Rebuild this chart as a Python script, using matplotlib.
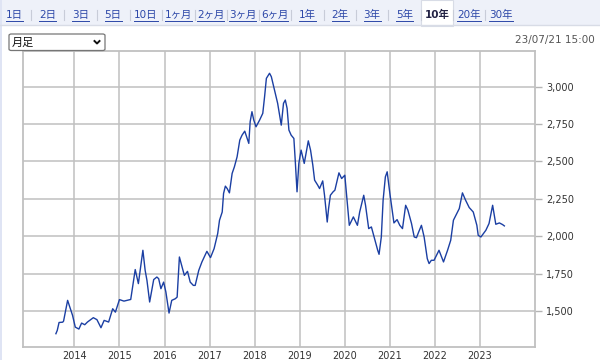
import matplotlib
matplotlib.use("Agg")
import matplotlib.pyplot as plt
from matplotlib.lines import Line2D
from matplotlib.patches import Rectangle, FancyBboxPatch
import numpy as np

plt.rcParams['font.family'] = ['DejaVu Sans', 'Noto Sans CJK JP']

# monthly close (decimal year, price)
years = [2013.59, 2013.62, 2013.66, 2013.74, 2013.76, 2013.85, 2013.90, 2013.96,
         2014.02, 2014.10, 2014.16, 2014.23, 2014.29, 2014.42, 2014.50, 2014.59,
         2014.66, 2014.76, 2014.85, 2014.91, 2015.00, 2015.10, 2015.25, 2015.35,
         2015.42, 2015.52, 2015.57, 2015.61, 2015.67, 2015.76, 2015.83, 2015.87,
         2015.92, 2015.98, 2016.03, 2016.10, 2016.16, 2016.24, 2016.28, 2016.33,
         2016.39, 2016.44, 2016.51, 2016.57, 2016.64, 2016.68, 2016.76, 2016.83,
         2016.94, 2017.02, 2017.10, 2017.18, 2017.22, 2017.28, 2017.31, 2017.35,
         2017.39, 2017.44, 2017.50, 2017.55, 2017.61, 2017.67, 2017.72, 2017.78,
         2017.81, 2017.87, 2017.90, 2017.94, 2017.98, 2018.03, 2018.11, 2018.18,
         2018.22, 2018.26, 2018.33, 2018.37, 2018.44, 2018.51, 2018.59, 2018.64,
         2018.68, 2018.72, 2018.76, 2018.81, 2018.87, 2018.90, 2018.94, 2018.98,
         2019.03, 2019.10, 2019.19, 2019.24, 2019.29, 2019.33, 2019.40, 2019.44,
         2019.51, 2019.55, 2019.61, 2019.64, 2019.68, 2019.74, 2019.78, 2019.87,
         2019.93, 2020.00, 2020.07, 2020.10, 2020.19, 2020.28, 2020.33, 2020.42,
         2020.46, 2020.53, 2020.59, 2020.64, 2020.73, 2020.76, 2020.81, 2020.85,
         2020.90, 2020.94, 2021.00, 2021.09, 2021.16, 2021.22, 2021.28, 2021.35,
         2021.40, 2021.48, 2021.54, 2021.59, 2021.64, 2021.70, 2021.76, 2021.83,
         2021.87, 2021.92, 2021.98, 2022.09, 2022.19, 2022.28, 2022.35, 2022.41,
         2022.54, 2022.61, 2022.68, 2022.76, 2022.85, 2022.93, 2022.96, 2023.02,
         2023.13, 2023.20, 2023.28, 2023.35, 2023.43, 2023.50, 2023.54]
prices = [1348, 1370, 1423, 1425, 1432, 1571, 1526, 1470,
          1392, 1379, 1419, 1408, 1426, 1455, 1442, 1388,
          1437, 1426, 1515, 1492, 1576, 1566, 1577, 1777,
          1683, 1906, 1772, 1705, 1560, 1710, 1727, 1716,
          1649, 1693, 1627, 1486, 1571, 1582, 1593, 1861,
          1794, 1738, 1765, 1693, 1671, 1671, 1772, 1828,
          1899, 1857, 1917, 2018, 2107, 2162, 2286, 2335,
          2319, 2290, 2420, 2464, 2531, 2643, 2676, 2703,
          2676, 2621, 2766, 2833, 2777, 2732, 2777, 2822,
          2933, 3056, 3090, 3067, 2978, 2889, 2743, 2889,
          2911, 2855, 2710, 2676, 2654, 2509, 2297, 2487,
          2576, 2487, 2638, 2576, 2476, 2375, 2341, 2319,
          2370, 2274, 2095, 2185, 2274, 2297, 2308, 2424,
          2386, 2408, 2174, 2073, 2129, 2073, 2162, 2274,
          2207, 2051, 2062, 2006, 1906, 1879, 1995, 2241,
          2397, 2431, 2286, 2089, 2111, 2073, 2051, 2207,
          2174, 2085, 1995, 1990, 2029, 2073, 1995, 1850,
          1817, 1839, 1839, 1906, 1828, 1906, 1973, 2107,
          2185, 2290, 2241, 2192, 2162, 2073, 2006, 1995,
          2040, 2085, 2207, 2080, 2089, 2078, 2069]

year_ticks = [2014, 2015, 2016, 2017, 2018, 2019, 2020, 2021, 2022, 2023]
price_ticks = [1500, 1750, 2000, 2250, 2500, 2750, 3000]
tabs = ['1日', '2日', '3日', '5日', '10日', '1ヶ月', '2ヶ月', '3ヶ月', '6ヶ月',
        '1年', '2年', '3年', '5年', '10年', '20年', '30年']
selected_tab = '10年'
timestamp = '23/07/21 15:00'
period_label = '月足'

W, H = 600, 360
fig = plt.figure(figsize=(6, 3.6), dpi=100)
fig.patch.set_facecolor('white')

def fx(px):
    return px / W

def fy(py):
    return 1 - py / H

# tab bar
fig.add_artist(Rectangle((0, fy(25)), 1, 25 / H, transform=fig.transFigure,
                         facecolor='#eef1f9', edgecolor='none', zorder=0))
fig.add_artist(Line2D([0, 1], [fy(25), fy(25)], transform=fig.transFigure,
                      color='#d8dce6', lw=1))
fig.add_artist(Rectangle((0, 0), fx(2), 1, transform=fig.transFigure,
                         facecolor='#dfe4f4', edgecolor='none', zorder=0))

tab_x = [14, 47.5, 80.5, 113, 146, 178.5, 210.5, 242.5, 274.5,
         307.5, 340, 372, 404.5, 437, 469, 501]
renderer = fig.canvas.get_renderer()
for i, (lab, x) in enumerate(zip(tabs, tab_x)):
    if lab == selected_tab:
        fig.add_artist(Rectangle((fx(421), fy(26)), fx(32), 26 / H,
                                 transform=fig.transFigure, facecolor='white',
                                 edgecolor='#d8dce6', lw=0.8, zorder=1))
        fig.text(fx(x), fy(15), lab, ha='center', va='center', fontsize=7.5,
                 fontweight='bold', color='#222244', zorder=2)
    else:
        t = fig.text(fx(x), fy(15), lab, ha='center', va='center', fontsize=7.5,
                     color='#2c47a8', zorder=2)
        bb = t.get_window_extent(renderer)
        fig.add_artist(Line2D([bb.x0 / W, bb.x1 / W], [fy(20.5), fy(20.5)],
                              transform=fig.transFigure, color='#2c47a8', lw=0.7))
    if i < len(tabs) - 1:
        sep = (x + tab_x[i + 1]) / 2
        fig.add_artist(Line2D([fx(sep), fx(sep)], [fy(10), fy(20)],
                              transform=fig.transFigure, color='#c8ccd8', lw=0.8))

# dropdown
fig.add_artist(FancyBboxPatch((fx(9), fy(50.5)), fx(96), 16.5 / H,
                              boxstyle='round,pad=0,rounding_size=0.004',
                              transform=fig.transFigure, facecolor='white',
                              edgecolor='#767676', lw=0.9))
fig.text(fx(12), fy(42.5), period_label, ha='left', va='center', fontsize=8, color='#111111')
fig.add_artist(Line2D([fx(94.5), fx(97), fx(99.5)], [fy(41), fy(43.5), fy(41)],
                      transform=fig.transFigure, color='#111111', lw=1.4))

fig.text(fx(595), fy(40), timestamp, ha='right', va='center', fontsize=7.5, color='#555555')

# chart
ax = fig.add_axes([fx(23), fy(347), fx(535 - 23), (347 - 51) / H])
ax.plot(years, prices, color='#1b3fa3', lw=1.0)
ax.set_xlim(2012.86, 2024.22)
ax.set_ylim(1259, 3239)
ax.set_xticks(year_ticks)
ax.set_xticklabels([str(y) for y in year_ticks])
ax.set_yticks(price_ticks)
ax.set_yticklabels([f'{p:,}' for p in price_ticks])
ax.yaxis.tick_right()
ax.tick_params(axis='y', length=5, width=1, color='#b4b4b4', pad=3,
               labelsize=7, labelcolor='#333333')
ax.tick_params(axis='x', length=0, pad=3, labelsize=7, labelcolor='#333333')
ax.grid(True, color='#c0c0c0', lw=1.1)
ax.set_axisbelow(True)
for s in ax.spines.values():
    s.set_color('#c0c0c0')
    s.set_linewidth(1.3)

fig.savefig('out.png', dpi=100)
